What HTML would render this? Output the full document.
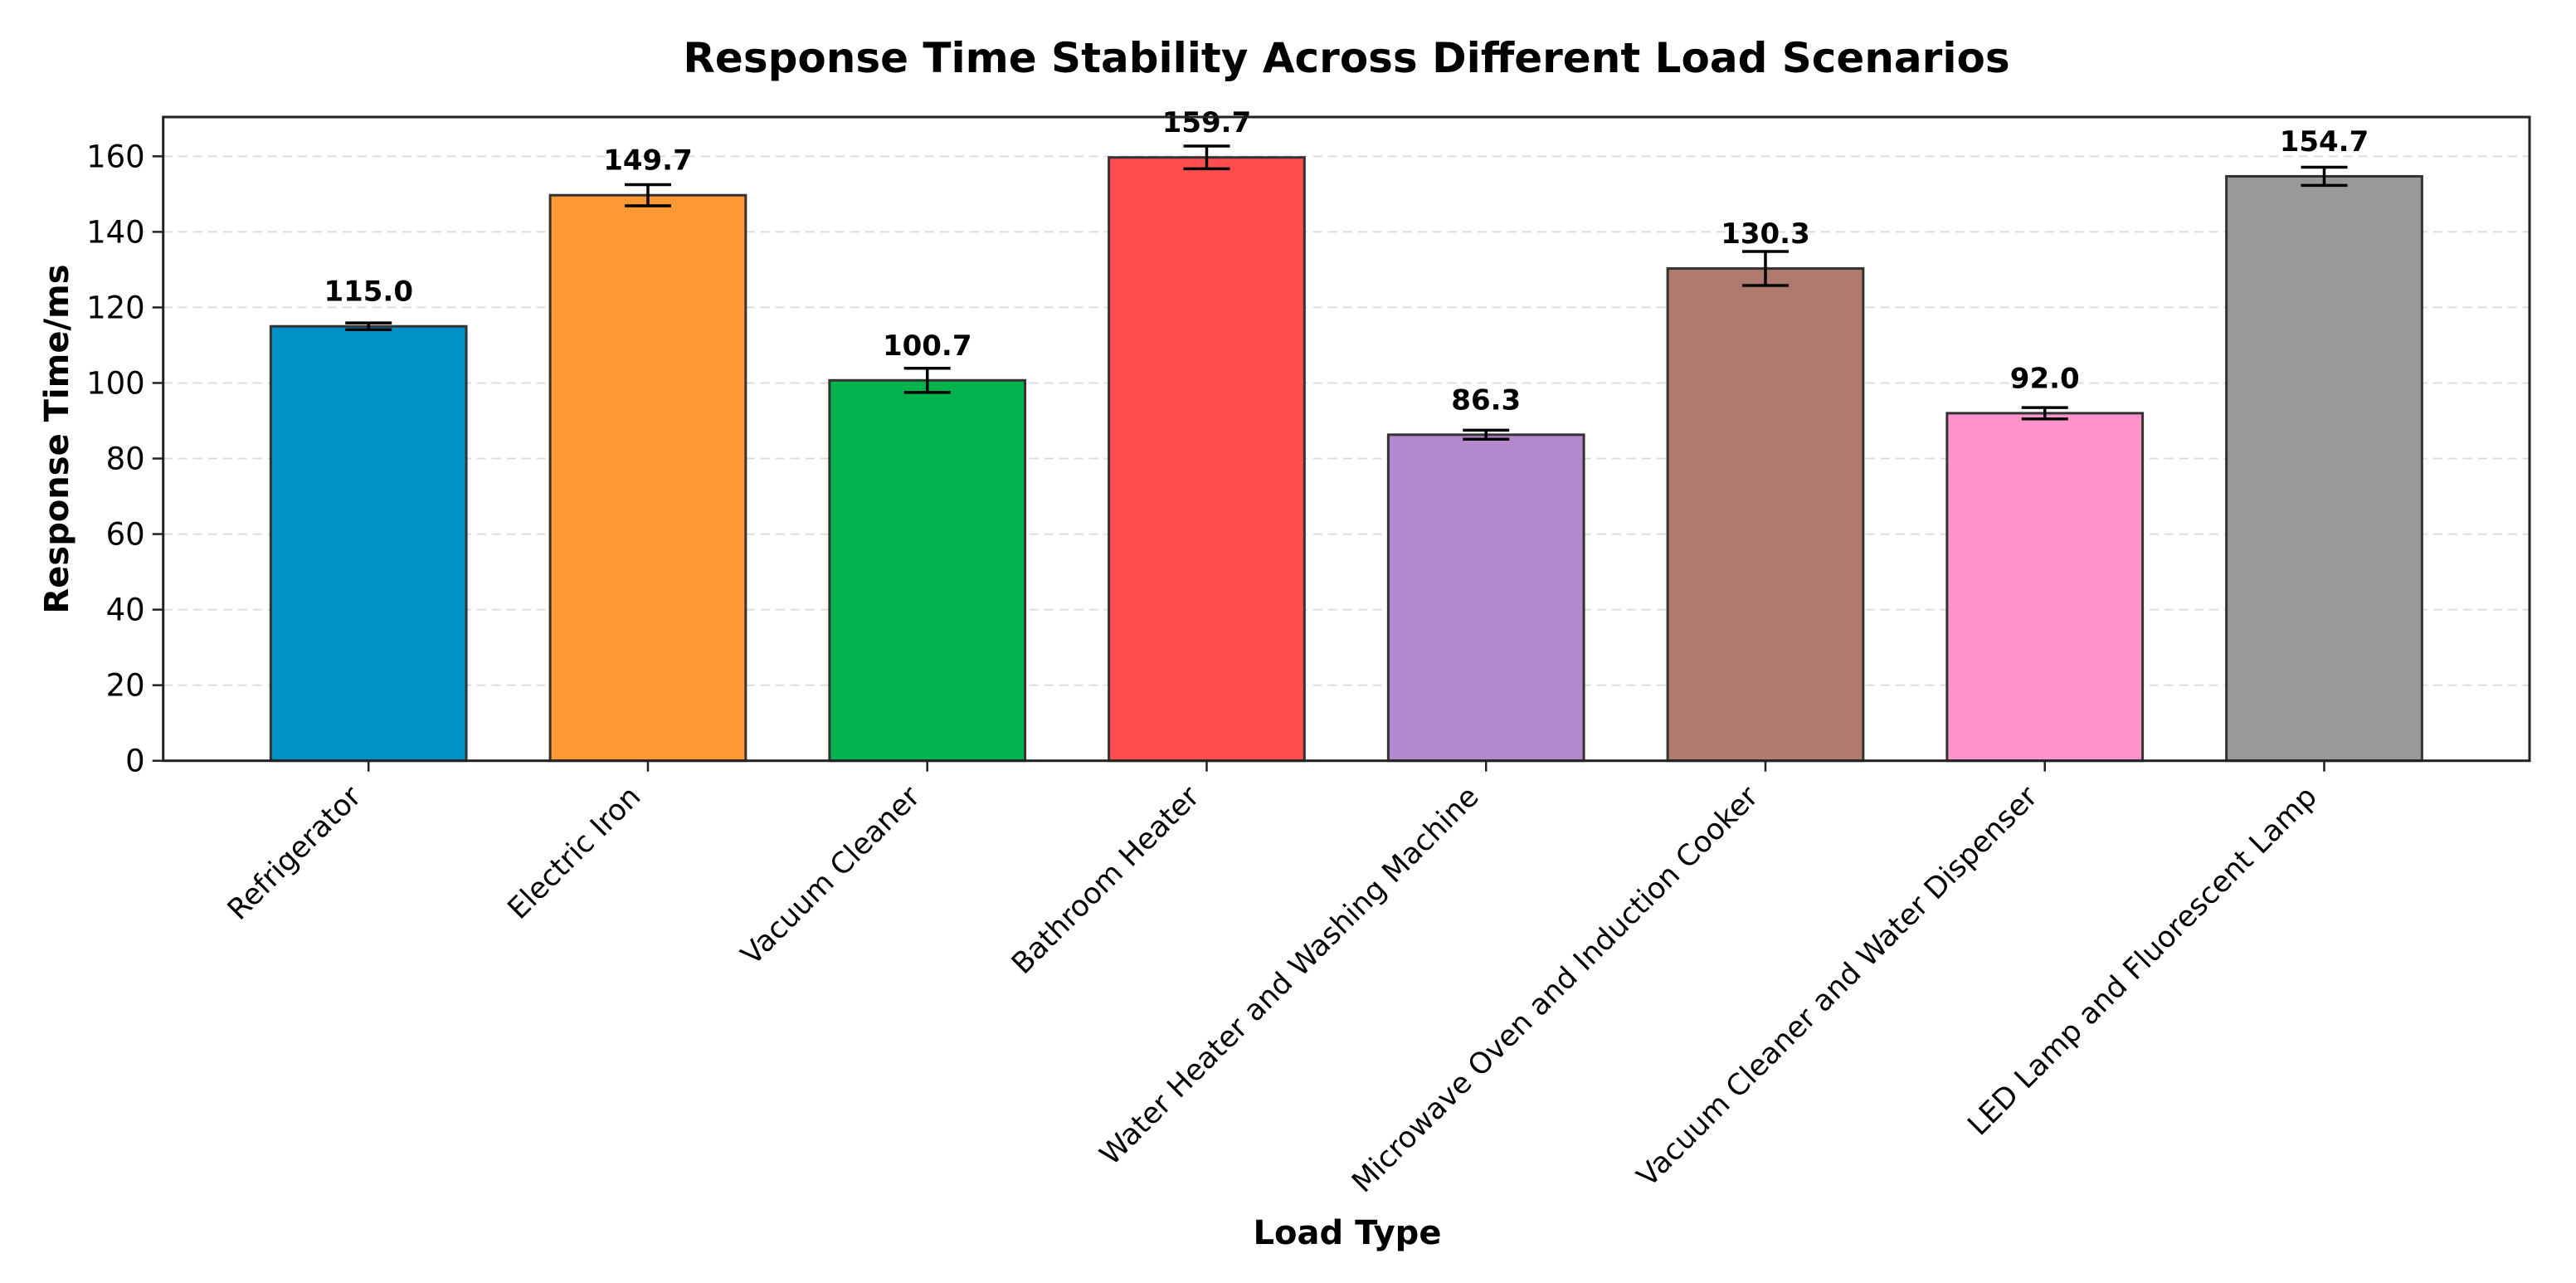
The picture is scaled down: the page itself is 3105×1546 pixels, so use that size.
<!DOCTYPE html>
<html><head><meta charset="utf-8"><style>
html,body{margin:0;padding:0;background:#fff;}
svg{display:block;font-family:"DejaVu Sans","Liberation Sans",sans-serif;}
</style></head><body>
<svg id="chart" width="3105" height="1546" viewBox="0 0 3105 1546" xmlns="http://www.w3.org/2000/svg">
<rect width="3105" height="1546" fill="#fff"/>
<text x="1623" y="87" text-anchor="middle" font-size="50" font-weight="bold" fill="#000">Response Time Stability Across Different Load Scenarios</text>
<g id="grid"></g><g id="bars"></g><g id="axes"></g>
<text x="1624" y="1499" text-anchor="middle" font-size="40" font-weight="bold">Load Type</text>
<text transform="translate(82,529) rotate(-90)" text-anchor="middle" font-size="40" font-weight="bold">Response Time/ms</text>
</svg>
<script>
const categories = ["Refrigerator","Electric Iron","Vacuum Cleaner","Bathroom Heater","Water Heater and Washing Machine","Microwave Oven and Induction Cooker","Vacuum Cleaner and Water Dispenser","LED Lamp and Fluorescent Lamp"];
const values = [115.0,149.7,100.7,159.7,86.3,130.3,92.0,154.7];
const errors = [0.9,2.8,3.2,3.0,1.2,4.5,1.5,2.4];
const valueLabels = ["115.0","149.7","100.7","159.7","86.3","130.3","92.0","154.7"];
const colors = ["#0091c7","#ff9933","#00b34d","#ff4d50","#b388cc","#b07a6e","#ff94cc","#999999"];
const yTicks = [0,20,40,60,80,100,120,140,160];

const NS="http://www.w3.org/2000/svg";
const L=196.7,R=3049,T=141,B=916.7;
const xMin=-0.735,xMax=7.735,yMin=0,yMax=170.4;
function xs(v){return L+(v-xMin)/(xMax-xMin)*(R-L);}
function ys(v){return B-(v-yMin)/(yMax-yMin)*(B-T);}
function mk(tag,attrs,parent,txt){const e=document.createElementNS(NS,tag);for(const k in attrs)e.setAttribute(k,attrs[k]);if(txt!==undefined)e.textContent=txt;parent.appendChild(e);return e;}
const grid=document.getElementById('grid'),bars=document.getElementById('bars'),axes=document.getElementById('axes');

yTicks.forEach(t=>{
  const g=mk('line',{x1:L,x2:R,y1:ys(t),y2:ys(t),stroke:'#dcdcdc','stroke-width':2,'stroke-dasharray':'11,7'},grid);
  
  
  const tk=mk('line',{x1:L-13,x2:L,y1:ys(t),y2:ys(t),stroke:'#222','stroke-width':2.5},axes);
  
  
  const lb=mk('text',{x:L-22,y:ys(t)+13,'text-anchor':'end','font-size':37,fill:'#000'},axes,String(t));
  
  
});

const bw=0.7;
categories.forEach((c,i)=>{
  const x0=xs(i-bw/2),x1=xs(i+bw/2),cx=xs(i);
  const r=mk('rect',{x:x0,y:ys(values[i]),width:x1-x0,height:ys(0)-ys(values[i]),fill:colors[i],stroke:'#333','stroke-width':3},bars);
  
  
  const yt=ys(values[i]+errors[i]),yb=ys(values[i]-errors[i]);
  const e=mk('path',{d:`M${cx},${yt}V${yb}M${cx-28},${yt}H${cx+28}M${cx-28},${yb}H${cx+28}`,stroke:'#000','stroke-width':3.5,fill:'none'},bars);
  
  
  const vl=mk('text',{x:cx,y:ys(values[i]+6.7),'text-anchor':'middle','font-size':34,'font-weight':'bold'},bars,valueLabels[i]);
  
  
  const tk=mk('line',{x1:cx,x2:cx,y1:B,y2:B+13,stroke:'#222','stroke-width':2.5},axes);
  
  
  const xl=mk('text',{transform:`translate(${cx-7},962) rotate(-45)`,'text-anchor':'end','font-size':35},axes,c);
  
  
});
const fr=mk('rect',{x:L,y:T,width:R-L,height:B-T,fill:'none',stroke:'#222','stroke-width':3},axes);


</script>
</body></html>
